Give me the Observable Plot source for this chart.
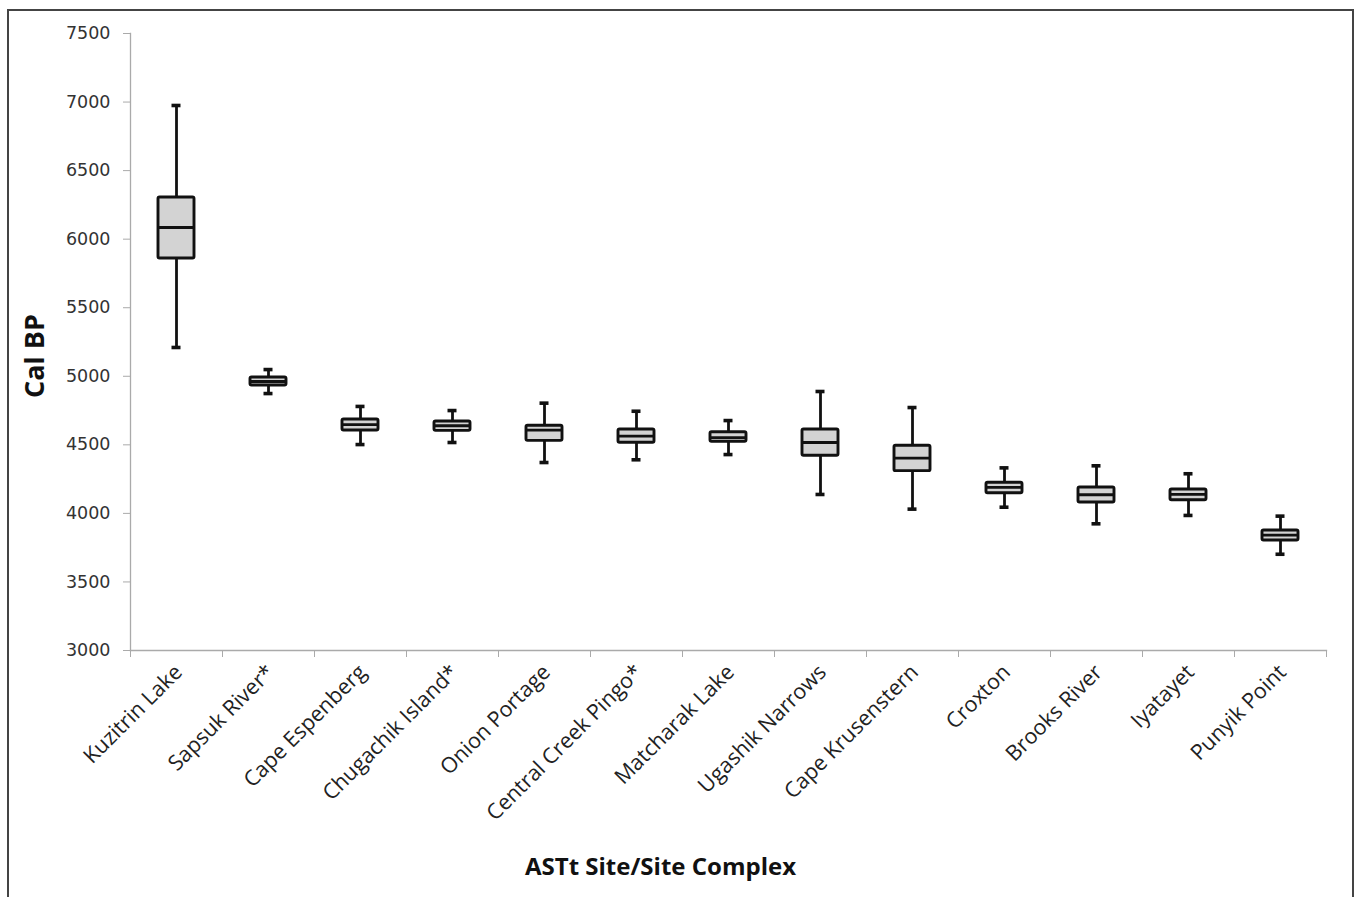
<!DOCTYPE html>
<html><head><meta charset="utf-8">
<script src="https://cdn.jsdelivr.net/npm/d3@7"></script>
<script src="https://cdn.jsdelivr.net/npm/@observablehq/plot@0.6"></script>
<style>
body{margin:0;background:#fff;}
#wrap{position:relative;width:1354px;height:897px;overflow:hidden;background:#fff;}
#frame{position:absolute;left:7px;top:9px;width:1347px;height:900px;border:2px solid #444;box-sizing:border-box;pointer-events:none;}
</style></head><body>
<div id="wrap"><div id="chart"></div><div id="frame"></div></div>
<script>
const sites = ["Kuzitrin Lake","Sapsuk River*","Cape Espenberg","Chugachik Island*","Onion Portage","Central Creek Pingo*","Matcharak Lake","Ugashik Narrows","Cape Krusenstern","Croxton","Brooks River","Iyatayet","Punyik Point"];
const whiskerLow  = [5210, 4874, 4502, 4517, 4371, 4391, 4429, 4138, 4031, 4045, 3924, 3985, 3702];
const q1          = [5859, 4933, 4605, 4602, 4529, 4515, 4522, 4420, 4308, 4147, 4079, 4096, 3802];
const median      = [6085, 4962, 4648, 4639, 4607, 4563, 4553, 4517, 4403, 4189, 4136, 4138, 3841];
const q3          = [6304, 4991, 4685, 4670, 4639, 4612, 4592, 4612, 4493, 4223, 4189, 4174, 3875];
const whiskerHigh = [6975, 5049, 4780, 4750, 4804, 4745, 4677, 4889, 4772, 4332, 4347, 4289, 3980];
const yTicks = [3000, 3500, 4000, 4500, 5000, 5500, 6000, 6500, 7000, 7500];
const xTitle = "ASTt Site/Site Complex";
const yTitle = "Cal BP";

const data = sites.map((s, i) => ({
  site: s, i0: i, i1: i + 1, c: i + 0.5,
  lo: whiskerLow[i], q1: q1[i], med: median[i], q3: q3[i], hi: whiskerHigh[i]
}));
const boundaries = d3.range(sites.length + 1);

const chart = Plot.plot({
  width: 1354, height: 897,
  marginLeft: 130, marginRight: 28, marginTop: 33, marginBottom: 247,
  style: {fontFamily: "DejaVu Sans", fontSize: "17px", background: "transparent", color: "#333"},
  x: {type: "linear", domain: [0, sites.length], axis: null},
  y: {domain: [3000, 7500], axis: null},
  marks: [
    Plot.frame({anchor: "left", stroke: "#aaa", strokeWidth: 1.3}),
    Plot.frame({anchor: "bottom", stroke: "#aaa", strokeWidth: 1.3}),
    Plot.axisY(yTicks, {tickSize: 7, tickPadding: 13, stroke: "#aaa", fill: "#333", fontSize: 17.5, fontFamily: "DejaVu Sans", tickFormat: d3.format("d"), label: null}),
    Plot.axisX(boundaries, {tickSize: 7, stroke: "#aaa", tickFormat: () => "", label: null}),
    Plot.text(data, {x: "c", text: "site", frameAnchor: "bottom", rotate: -45, textAnchor: "end", dx: 7, dy: 23, fontSize: 21.5, fontFamily: "Open Sans", fill: "#222"}),
    Plot.text([yTitle], {text: d => d, frameAnchor: "left", textAnchor: "middle", rotate: -90, dx: -95, dy: 14, fontSize: 27, fontWeight: "bold", fontFamily: "Open Sans", fill: "#111"}),
    Plot.text([xTitle], {text: d => d, frameAnchor: "bottom", textAnchor: "middle", dx: -68, dy: 224, fontSize: 24, fontWeight: "bold", fontFamily: "Open Sans", fill: "#111"}),
    Plot.ruleX(data, {x: "c", y1: "lo", y2: "hi", stroke: "#111", strokeWidth: 2.8}),
    Plot.ruleY(data, {x1: "i0", x2: "i1", y: "hi", insetLeft: 41.5, insetRight: 41.5, stroke: "#111", strokeWidth: 3.6}),
    Plot.ruleY(data, {x1: "i0", x2: "i1", y: "lo", insetLeft: 41.5, insetRight: 41.5, stroke: "#111", strokeWidth: 3.6}),
    Plot.rect(data, {x1: "i0", x2: "i1", y1: "q1", y2: "q3", insetLeft: 28, insetRight: 28, fill: "#d3d3d3", stroke: "#111", strokeWidth: 2.9, rx: 1.5}),
    Plot.ruleY(data, {x1: "i0", x2: "i1", y: "med", insetLeft: 28, insetRight: 28, stroke: "#111", strokeWidth: 2.8})
  ]
});
document.getElementById("chart").appendChild(chart);
</script>
</body></html>
